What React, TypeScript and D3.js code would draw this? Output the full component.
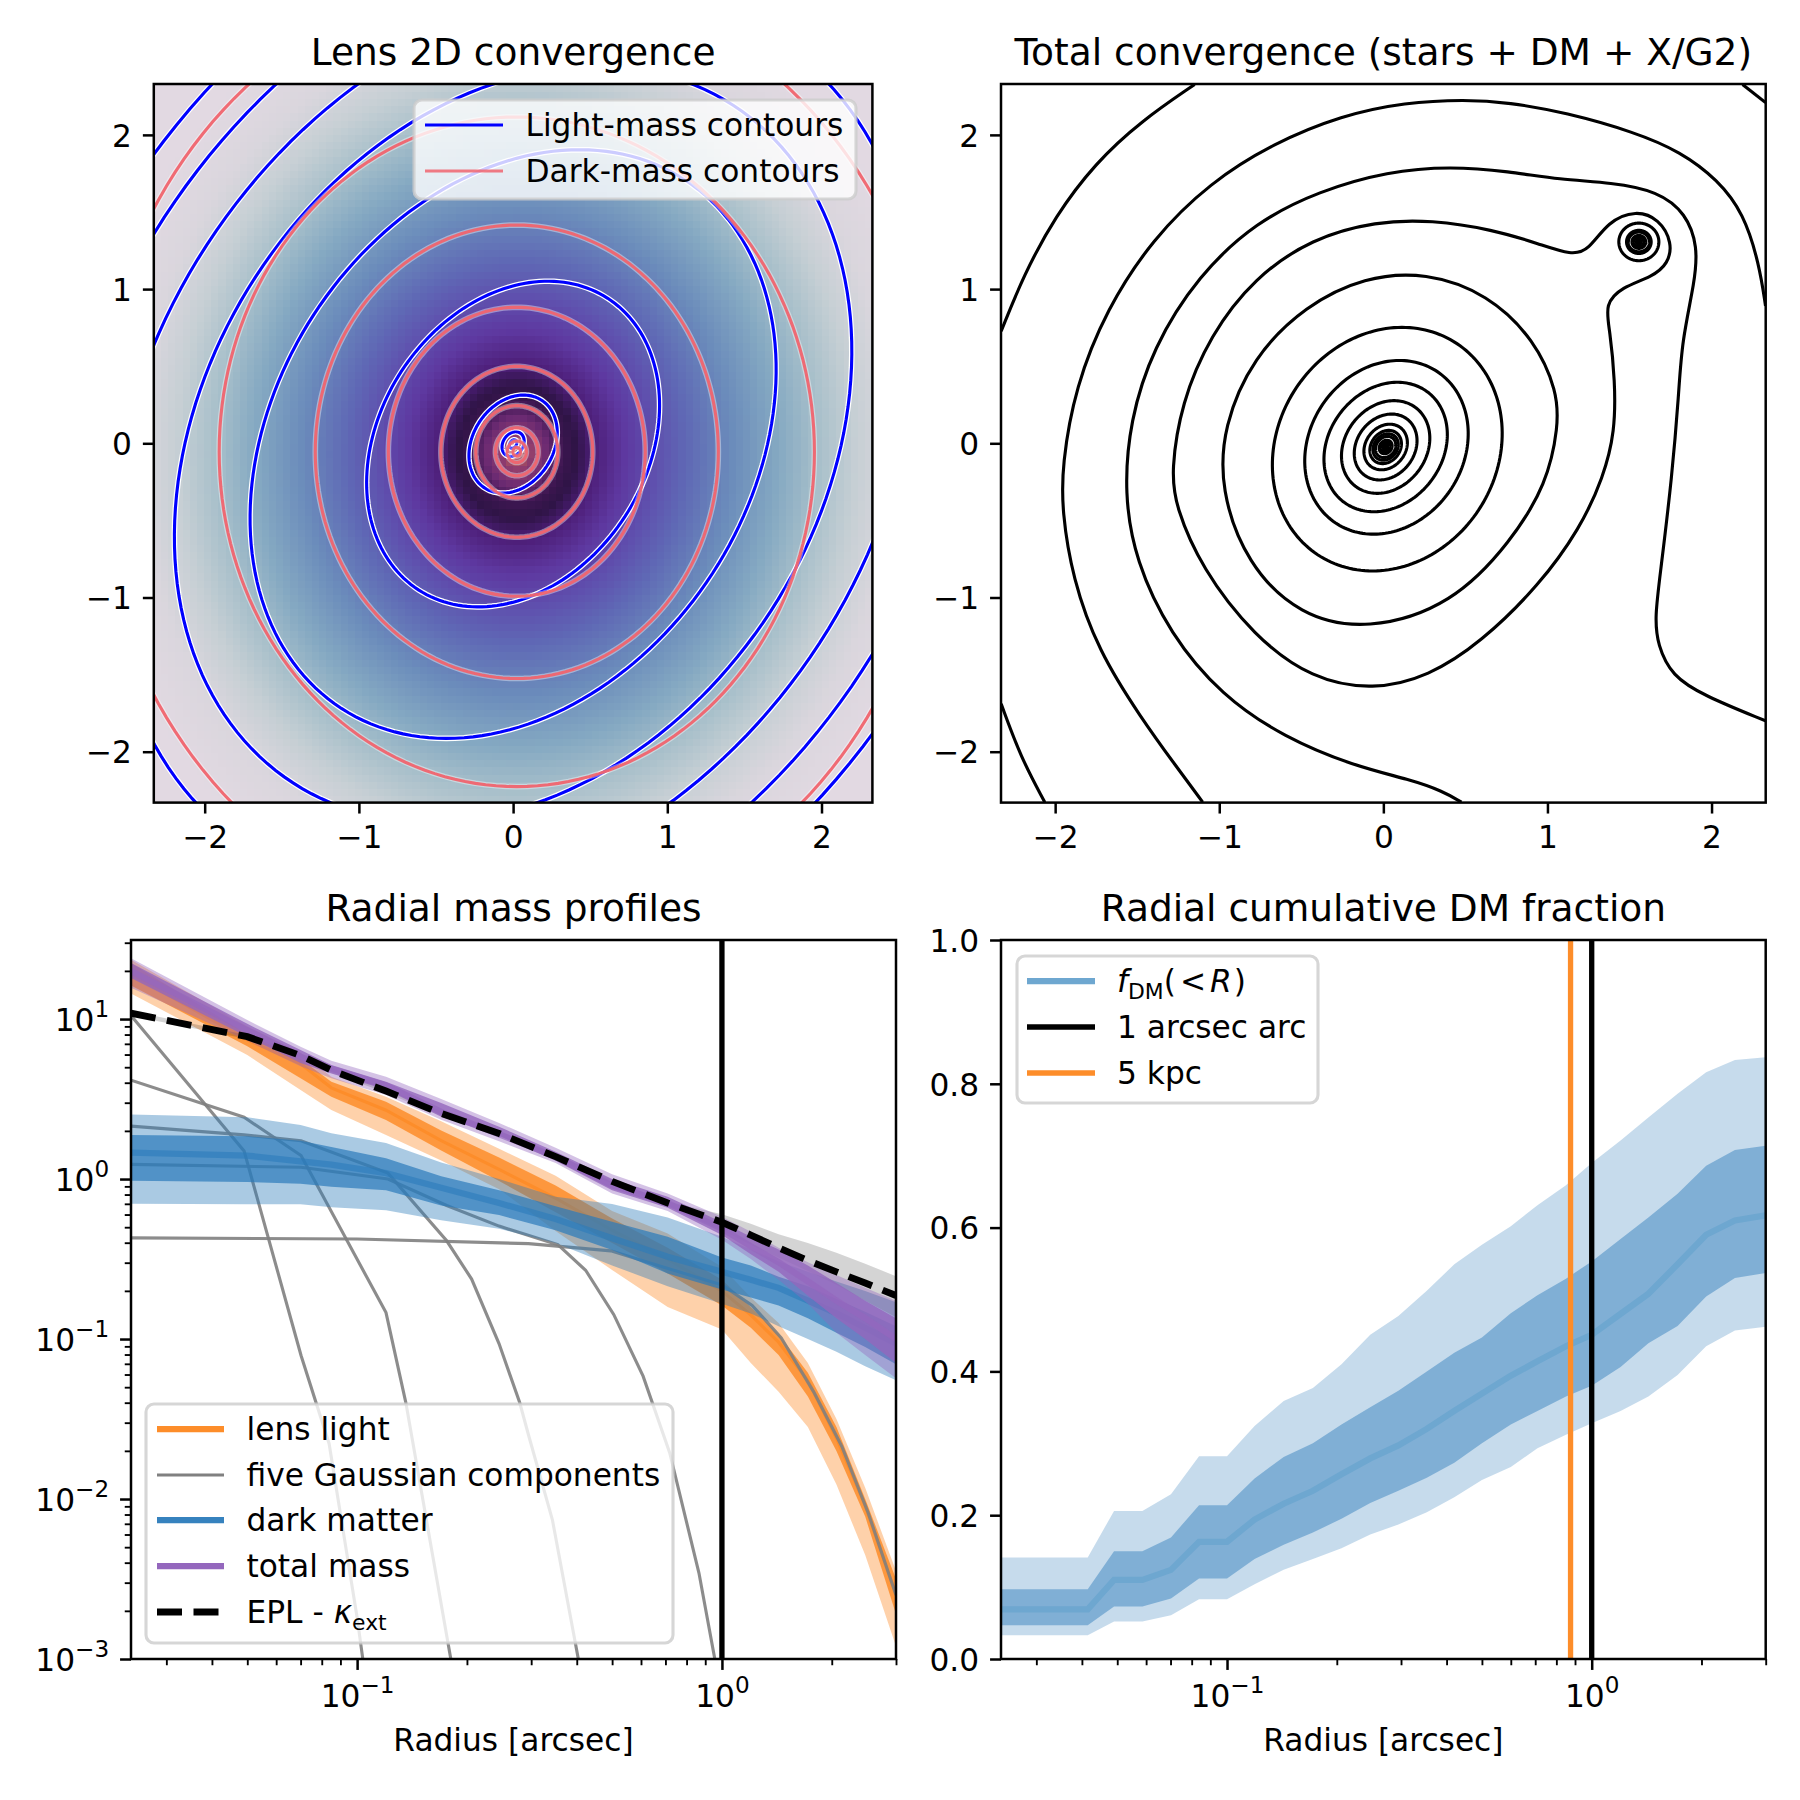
import React, { useRef, useEffect } from "react";
import * as d3 from "d3";

// ---------- lens 2D convergence: contour semi axes ----------
const lightSemiMajor = [0.03, 0.085, 0.339, 1.127, 2.044, 2.62, 3.13, 3.55, 3.93];
const lightAxisRatio = [0.7, 0.77, 0.77, 0.767, 0.754, 0.76, 0.757, 0.76, 0.76];
const lightAngleDeg = 57;
const darkSemiX = [0.025, 0.062, 0.138, 0.266, 0.4925, 0.833, 1.307, 1.93, 2.74];
const darkAxisRatio = 1.125;
const darkCentre = [0.024, -0.055];
// radial profile of the image: elliptical radius -> colour
const kappaRadius = [0, 0.05, 0.1, 0.2, 0.3, 0.38, 0.5, 0.7, 0.9, 1.1, 1.4, 1.7, 1.95, 2.2, 2.45, 2.8, 3.5];
const kappaColour = ["#c8887f", "#a8505f", "#8f3c6e", "#6b2a72", "#3c1650", "#2f1446", "#4d1e78", "#5e38a0", "#5f50ae", "#5f68b5", "#6b8cbb", "#85a9c2", "#a7bfca", "#c6cfd4", "#dad6dd", "#e2d9e2", "#e2d9e2"];
const gridSize = 100;

// ---------- total convergence ----------
const outerTopLeft = [[-2.329, 0.727], [-2.192, 1.09], [-2.0, 1.473], [-1.755, 1.818], [-1.476, 2.09], [-1.15, 2.327]];
const outerBottomLeft = [[-2.329, -1.69], [-2.21, -2.036], [-2.063, -2.327]];
const outerTopRight = [[2.189, 2.327], [2.329, 2.21]];
const contourTwo = [[2.329, 0.891], [2.29, 1.164], [2.196, 1.491], [2.038, 1.709], [1.811, 1.891], [1.531, 2.018], [1.112, 2.145], [0.762, 2.211], [0.5, 2.229], [0.133, 2.211], [-0.252, 2.127], [-0.671, 1.945], [-1.056, 1.691], [-1.406, 1.327], [-1.685, 0.873], [-1.878, 0.364], [-1.958, -0.145], [-1.958, -0.436], [-1.895, -0.873], [-1.738, -1.345], [-1.476, -1.782], [-1.266, -2.09], [-1.101, -2.327]];
const contourThree = [[2.329, -1.8], [1.951, -1.636], [1.759, -1.509], [1.671, -1.309], [1.654, -1.127], [1.689, -0.836], [1.759, -0.218], [1.801, 0.327], [1.818, 0.655], [1.899, 1.055], [1.916, 1.273], [1.846, 1.491], [1.671, 1.636], [1.392, 1.691], [1.077, 1.709], [0.762, 1.764], [0.413, 1.796], [0.028, 1.764], [-0.392, 1.636], [-0.776, 1.436], [-1.126, 1.091], [-1.406, 0.618], [-1.545, 0.145], [-1.58, -0.327], [-1.51, -0.764], [-1.301, -1.236], [-0.986, -1.636], [-0.601, -1.909], [-0.182, -2.091], [0.168, -2.182], [0.36, -2.255], [0.476, -2.327]];
const contourFour = [[1.54, 1.512], [1.68, 1.455], [1.762, 1.3], [1.735, 1.165], [1.64, 1.08], [1.45, 1.012], [1.35, 0.9], [1.38, 0.739], [1.412, 0.407], [1.412, 0.075], [1.341, -0.22], [1.199, -0.552], [0.95, -0.921], [0.595, -1.291], [0.276, -1.512], [-0.061, -1.601], [-0.434, -1.53], [-0.788, -1.253], [-1.108, -0.811], [-1.267, -0.405], [-1.293, -0.184], [-1.232, 0.26], [-1.054, 0.703], [-0.788, 1.072], [-0.434, 1.33], [-0.043, 1.44], [0.294, 1.448], [0.666, 1.386], [0.95, 1.293], [1.147, 1.22], [1.25, 1.25], [1.37, 1.44]];
const contourFive = [[0.261, 1.11], [0.637, 0.968], [0.924, 0.67], [1.06, 0.334], [1.067, 0.111], [0.996, -0.263], [0.78, -0.635], [0.423, -1.045], [-0.097, -1.216], [-0.51, -1.12], [-0.832, -0.784], [-0.994, -0.299], [-0.975, 0.111], [-0.796, 0.558], [-0.474, 0.894], [-0.115, 1.08]];
// remaining rings are nearly elliptical: semi major, semi minor, angle, centre
const ringSemiMajor = [0.809, 0.582, 0.44, 0.315, 0.224, 0.155, 0.113, 0.09, 0.072, 0.046, 0.032, 0.018, 0.008];
const ringSemiMinor = [0.678, 0.476, 0.352, 0.252, 0.179, 0.124, 0.09, 0.072, 0.058, 0.037, 0.026, 0.014, 0.006];
const ringAngleDeg = [66.6, 64, 60, 60, 60, 60, 60, 60, 60, 60, 60, 60, 60];
const ringCentreX = [0.024, 0.019, 0.014, 0.014, 0.014, 0.014, 0.014, 0.014, 0.014, 0.014, 0.014, 0.014, 0.014];
const ringCentreY = [-0.038, -0.026, -0.024, -0.024, -0.024, -0.024, -0.024, -0.024, -0.024, -0.024, -0.024, -0.024, -0.024];
const satelliteRadius = [0.122, 0.075, 0.064, 0.042, 0.03, 0.015, 0.005];
const satelliteCentre = [1.557, 1.306];

// ---------- radial mass profiles, log10 of the convergence ----------
const massRadii = [0.024, 0.05, 0.07, 0.085, 0.12, 0.17, 0.245, 0.35, 0.5, 0.71, 1, 1.2, 1.43, 1.72, 2.06, 2.47, 3];
const lightLow2 = [1.16, 0.775, 0.556, 0.431, 0.275, 0.116, -0.064, -0.324, -0.569, -0.8, -0.94, -1.15, -1.33, -1.55, -1.91, -2.35, -2.92];
const lightLow1 = [1.21, 0.83, 0.63, 0.514, 0.369, 0.178, -0.012, -0.207, -0.4, -0.59, -0.79, -0.93, -1.1, -1.36, -1.7, -2.11, -2.72];
const lightMed = [1.28, 0.87, 0.72, 0.57, 0.43, 0.24, 0.06, -0.12, -0.32, -0.5, -0.7, -0.85, -1.02, -1.26, -1.62, -2.04, -2.6];
const lightHigh1 = [1.35, 0.905, 0.75, 0.608, 0.483, 0.303, 0.134, -0.04, -0.246, -0.43, -0.63, -0.8, -0.97, -1.21, -1.55, -2.0, -2.5];
const lightHigh2 = [1.37, 0.955, 0.79, 0.64, 0.514, 0.361, 0.189, 0.02, -0.2, -0.34, -0.55, -0.74, -0.9, -1.15, -1.5, -1.93, -2.45];
const darkLow2 = [-0.154, -0.158, -0.158, -0.176, -0.195, -0.257, -0.31, -0.4, -0.54, -0.67, -0.78, -0.84, -0.92, -1.0, -1.08, -1.17, -1.257];
const darkLow1 = [-0.011, -0.018, -0.03, -0.048, -0.07, -0.165, -0.225, -0.32, -0.444, -0.59, -0.69, -0.74, -0.79, -0.87, -0.96, -1.05, -1.158];
const darkMed = [0.165, 0.147, 0.11, 0.09, 0.037, -0.055, -0.15, -0.25, -0.37, -0.486, -0.58, -0.63, -0.68, -0.76, -0.84, -0.93, -1.03];
const darkHigh1 = [0.276, 0.268, 0.239, 0.2, 0.13, 0.018, -0.07, -0.17, -0.267, -0.36, -0.49, -0.54, -0.61, -0.67, -0.75, -0.83, -0.92];
const darkHigh2 = [0.404, 0.386, 0.338, 0.287, 0.225, 0.103, 0, -0.11, -0.156, -0.24, -0.36, -0.44, -0.515, -0.58, -0.64, -0.7, -0.77];
const totalLow2 = [1.195, 0.865, 0.705, 0.63, 0.525, 0.37, 0.236, 0.1, -0.09, -0.2, -0.38, -0.5, -0.63, -0.78, -0.96, -1.1, -1.245];
const totalLow1 = [1.256, 0.89, 0.725, 0.66, 0.56, 0.39, 0.27, 0.115, -0.07, -0.18, -0.35, -0.47, -0.58, -0.73, -0.87, -1.0, -1.15];
const totalMed = [1.3, 0.93, 0.765, 0.69, 0.585, 0.42, 0.28, 0.14, -0.04, -0.15, -0.31, -0.42, -0.52, -0.64, -0.76, -0.87, -1.0];
const totalHigh1 = [1.35, 0.97, 0.806, 0.7125, 0.608, 0.475, 0.327, 0.17, -0.0, -0.11, -0.27, -0.36, -0.44, -0.54, -0.65, -0.76, -0.87];
const totalHigh2 = [1.38, 0.994, 0.827, 0.74, 0.64, 0.5, 0.351, 0.195, 0.03, -0.09, -0.235, -0.33, -0.43, -0.52, -0.6, -0.68, -0.76];
const eplLow = [1.02, 0.875, 0.76, 0.665, 0.54, 0.395, 0.27, 0.125, -0.03, -0.165, -0.32, -0.41, -0.49, -0.575, -0.66, -0.76, -0.864];
const eplMed = [1.037, 0.89, 0.772, 0.68, 0.55, 0.41, 0.285, 0.14, -0.015, -0.15, -0.27, -0.35, -0.43, -0.51, -0.58, -0.65, -0.728];
const eplHigh = [1.05, 0.9, 0.785, 0.695, 0.565, 0.425, 0.3, 0.155, -0.005, -0.14, -0.22, -0.28, -0.345, -0.4, -0.46, -0.53, -0.607];

const gaussRadii = [
  [0.024, 0.049, 0.0702, 0.0838, 0.1, 0.119],
  [0.024, 0.049, 0.0702, 0.12, 0.136, 0.18, 0.204],
  [0.024, 0.049, 0.0702, 0.1215, 0.176, 0.206, 0.245, 0.279, 0.295, 0.343, 0.404, 0.444],
  [0.024, 0.0702, 0.1215, 0.176, 0.245, 0.355, 0.423, 0.505, 0.608, 0.719, 0.865, 0.956, 1.04],
  [0.024, 0.1, 0.295, 0.496, 0.693, 1, 1.21, 1.454, 1.784, 2.13, 2.52, 3],
];
const gaussLog = [
  [1.022, 0.176, -1.103, -1.654, -2.74, -4.0],
  [0.618, 0.386, 0.147, -0.835, -1.397, -2.98, -3.64],
  [0.331, 0.276, 0.239, 0.037, -0.386, -0.625, -1.03, -1.397, -1.6, -2.13, -3.0, -3.57],
  [0.092, 0.0735, 0, -0.165, -0.294, -0.41, -0.57, -0.846, -1.232, -1.71, -2.463, -3.0, -3.57],
  [-0.368, -0.375, -0.404, -0.449, -0.551, -0.662, -0.79, -0.993, -1.33, -1.67, -2.09, -2.6],
];

// ---------- cumulative DM fraction ----------
const fdmRadii = [0.024, 0.0415, 0.049, 0.0586, 0.0702, 0.0838, 0.1, 0.119, 0.143, 0.172, 0.206, 0.247, 0.295, 0.353, 0.42, 0.5, 0.6, 0.71, 0.85, 1, 1.2, 1.43, 1.72, 2.06, 2.47, 3];
const fdmLow2 = [0.033, 0.033, 0.052, 0.052, 0.061, 0.083, 0.083, 0.104, 0.124, 0.139, 0.154, 0.173, 0.187, 0.204, 0.225, 0.249, 0.267, 0.293, 0.312, 0.328, 0.345, 0.365, 0.395, 0.435, 0.457, 0.462];
const fdmLow1 = [0.047, 0.047, 0.073, 0.073, 0.084, 0.112, 0.112, 0.139, 0.159, 0.176, 0.195, 0.217, 0.234, 0.252, 0.273, 0.3, 0.326, 0.345, 0.365, 0.38, 0.406, 0.439, 0.463, 0.504, 0.53, 0.537];
const fdmMed = [0.069, 0.069, 0.11, 0.11, 0.124, 0.163, 0.163, 0.194, 0.216, 0.234, 0.257, 0.279, 0.297, 0.32, 0.345, 0.369, 0.394, 0.414, 0.435, 0.451, 0.48, 0.508, 0.549, 0.59, 0.61, 0.617];
const fdmHigh1 = [0.097, 0.097, 0.15, 0.15, 0.169, 0.214, 0.214, 0.251, 0.281, 0.3, 0.326, 0.35, 0.373, 0.4, 0.426, 0.447, 0.481, 0.506, 0.529, 0.553, 0.584, 0.614, 0.647, 0.686, 0.708, 0.714];
const fdmHigh2 = [0.141, 0.141, 0.206, 0.206, 0.229, 0.282, 0.282, 0.324, 0.359, 0.377, 0.41, 0.451, 0.477, 0.512, 0.549, 0.576, 0.602, 0.631, 0.659, 0.69, 0.721, 0.753, 0.786, 0.816, 0.833, 0.837];
const arcRadius = 1;
const kpcRadius = 0.875;

const imageTicks = [-2, -1, 0, 1, 2];
const imageLim = 2.33;
const radiusLim = [0.024, 3];
const massLim = [1e-3, 31.2];
const radiusMajor = [0.1, 1];
const radiusMinor = [0.03, 0.04, 0.05, 0.06, 0.07, 0.08, 0.09, 0.2, 0.3, 0.4, 0.5, 0.6, 0.7, 0.8, 0.9, 2, 3];
const massMajor = [1e-3, 1e-2, 1e-1, 1, 10];
const massMinor = [1e-3, 1e-2, 1e-1, 1].flatMap((d) => [2, 3, 4, 5, 6, 7, 8, 9].map((m) => m * d)).concat([20, 30]);
const fractionTicks = [0, 0.2, 0.4, 0.6, 0.8, 1];

// 1 pt = 3.125 px (8 in figure at 225 dpi)
const PT = 3.125;
const FONT = "DejaVu Sans";
const TICK_SIZE = 31.25;
const TITLE_SIZE = 37.5;
const BLUE = "#2b7bba";
const ORANGE = "#fd8d2a";
const PURPLE = "#9467bd";
const FDM_LINE = "#6ea7d0";
const RED_LINE = "#f0646e";
const EPL_DASH = "25,11.5";

const boxImage = { left: 153.8, right: 872.4, top: 84, bottom: 802.6 };
const boxTotal = { left: 1001, right: 1765.7, top: 84, bottom: 802.6 };
const boxMass = { left: 131, right: 896, top: 940, bottom: 1659 };
const boxFdm = { left: 1001, right: 1765.7, top: 940, bottom: 1659 };

const superscript = (d: number) => Math.round(Math.log10(d)).toString().replace("-", "\u2212");

function Axis({ scale, orient, major, minor, log, fmt, at }: any) {
  const ref = useRef<SVGGElement | null>(null);
  useEffect(() => {
    const g = d3.select(ref.current);
    g.selectAll("*").remove();
    const make = orient === "bottom" ? d3.axisBottom : d3.axisLeft;
    const majorAxis = make(scale)
      .tickValues(major)
      .tickSize(3.5 * PT)
      .tickPadding(3.5 * PT)
      .tickFormat(fmt || ((d: any) => String(d).replace("-", "\u2212")));
    const gMajor = g.append("g").call(majorAxis as any);
    gMajor.select(".domain").remove();
    gMajor.selectAll("line").attr("stroke", "#000").attr("stroke-width", 0.8 * PT);
    gMajor.selectAll("text").attr("fill", "#000").style("font-family", FONT).style("font-size", `${TICK_SIZE}px`);
    if (orient === "bottom") gMajor.selectAll("text").attr("dy", "0.76em");
    else gMajor.selectAll("text").attr("dy", "0.36em");
    if (log) {
      gMajor.selectAll<SVGTextElement, number>("text").each(function (d) {
        const t = d3.select(this);
        t.text(null);
        if (orient === "bottom") t.attr("dy", "0.82em");
        t.append("tspan").text("10");
        t.append("tspan").attr("dy", -14).style("font-size", `${TICK_SIZE * 0.74}px`).text(superscript(d));
      });
    }
    if (minor) {
      const gMinor = g.append("g").call(make(scale).tickValues(minor).tickSize(2 * PT).tickFormat(() => "") as any);
      gMinor.select(".domain").remove();
      gMinor.selectAll("line").attr("stroke", "#000").attr("stroke-width", 0.6 * PT);
    }
  }, []);
  return <g ref={ref} transform={at} />;
}

function Frame({ box, title, id, children, xAxis, yAxis, xLabel }: any) {
  const w = box.right - box.left;
  const h = box.bottom - box.top;
  return (
    <g>
      <clipPath id={id}>
        <rect x={box.left} y={box.top} width={w} height={h} />
      </clipPath>
      <g clipPath={`url(#${id})`}>{children}</g>
      <rect x={box.left} y={box.top} width={w} height={h} fill="none" stroke="#000" strokeWidth={0.8 * PT} />
      <Axis {...xAxis} orient="bottom" at={`translate(0,${box.bottom})`} />
      <Axis {...yAxis} orient="left" at={`translate(${box.left},0)`} />
      <text x={(box.left + box.right) / 2} y={box.top - 6 * PT} textAnchor="middle" fontFamily={FONT} fontSize={TITLE_SIZE}>
        {title}
      </text>
      {xLabel && (
        <text x={(box.left + box.right) / 2} y={box.bottom + 92} textAnchor="middle" fontFamily={FONT} fontSize={TICK_SIZE}>
          {xLabel}
        </text>
      )}
    </g>
  );
}

function Legend({ x, y, w, h, handleX, handleLen, textX, rows }: any) {
  return (
    <g fontFamily={FONT} fontSize={TICK_SIZE}>
      <rect x={x} y={y} width={w} height={h} rx={8} fill="#fff" fillOpacity={0.8} stroke="#ccc" strokeOpacity={0.8} strokeWidth={PT} />
      {rows.map((r: any, i: number) => (
        <g key={i}>
          <line x1={handleX} x2={handleX + handleLen} y1={r.y} y2={r.y} stroke={r.stroke} strokeWidth={r.width} strokeDasharray={r.dash} strokeOpacity={r.opacity ?? 1} />
          <text x={textX} y={r.y + 10.5}>
            {r.label}
          </text>
        </g>
      ))}
    </g>
  );
}

const ellipsePoints = (a: number, b: number, deg: number, c: number[]) => {
  const th = (deg * Math.PI) / 180;
  return d3.range(0, 360, 2).map((t) => {
    const p = (t * Math.PI) / 180;
    const u = a * Math.cos(p);
    const v = b * Math.sin(p);
    return [c[0] + u * Math.cos(th) - v * Math.sin(th), c[1] + u * Math.sin(th) + v * Math.cos(th)];
  });
};

function LensPanel() {
  const x = d3.scaleLinear().domain([-imageLim, imageLim]).range([boxImage.left, boxImage.right]);
  const y = d3.scaleLinear().domain([-imageLim, imageLim]).range([boxImage.bottom, boxImage.top]);
  const line = d3.line<number[]>().x((d) => x(d[0])).y((d) => y(d[1])).curve(d3.curveLinearClosed);
  const colour = d3.scaleLinear<string>().domain(kappaRadius).range(kappaColour).clamp(true);
  const step = (2 * imageLim) / gridSize;
  const cells = d3.range(gridSize).flatMap((i) => d3.range(gridSize).map((j) => [i, j]));
  const lightPaths = lightSemiMajor.map((a, i) => line(ellipsePoints(a, a * lightAxisRatio[i], lightAngleDeg, [0, -0.005])) as string);
  const darkPaths = darkSemiX.map((a) => line(ellipsePoints(a, a * darkAxisRatio, 0, darkCentre)) as string);
  return (
    <Frame
      box={boxImage}
      id="clip-lens"
      title="Lens 2D convergence"
      xAxis={{ scale: x, major: imageTicks }}
      yAxis={{ scale: y, major: imageTicks }}
    >
      <g shapeRendering="crispEdges">
        {cells.map(([i, j]) => {
          const cx = -imageLim + (i + 0.5) * step;
          const cy = -imageLim + (j + 0.5) * step;
          const r = Math.hypot(cx - darkCentre[0], (cy - darkCentre[1]) / darkAxisRatio);
          return <rect key={`${i}-${j}`} x={x(cx - step / 2)} y={y(cy + step / 2)} width={x(step) - x(0) + 0.7} height={y(0) - y(step) + 0.7} fill={colour(r)} />;
        })}
      </g>
      <g fill="none">
        {lightPaths.map((d, i) => (
          <g key={i}>
            <path d={d} stroke="#fff" strokeWidth={1.8 * PT} />
            <path d={d} stroke="#0000ff" strokeWidth={PT} />
          </g>
        ))}
        {darkPaths.map((d, i) => (
          <g key={i}>
            <path d={d} stroke="#fff" strokeOpacity={0.4} strokeWidth={1.8 * PT} />
            <path d={d} stroke={RED_LINE} strokeOpacity={0.95} strokeWidth={PT} />
          </g>
        ))}
      </g>
      <Legend
        x={414}
        y={100}
        w={442}
        h={99}
        handleX={425}
        handleLen={78}
        textX={525.5}
        rows={[
          { y: 125, stroke: "#0000ff", width: PT, label: "Light-mass contours" },
          { y: 171, stroke: RED_LINE, width: PT, opacity: 0.85, label: "Dark-mass contours" },
        ]}
      />
    </Frame>
  );
}

function TotalPanel() {
  const x = d3.scaleLinear().domain([-imageLim, imageLim]).range([boxTotal.left, boxTotal.right]);
  const y = d3.scaleLinear().domain([-imageLim, imageLim]).range([boxTotal.bottom, boxTotal.top]);
  const open = d3.line<number[]>().x((d) => x(d[0])).y((d) => y(d[1])).curve(d3.curveBasis);
  const closed = d3.line<number[]>().x((d) => x(d[0])).y((d) => y(d[1])).curve(d3.curveBasisClosed);
  const ring = d3.line<number[]>().x((d) => x(d[0])).y((d) => y(d[1])).curve(d3.curveLinearClosed);
  const openSets = [outerTopLeft, outerBottomLeft, outerTopRight, contourTwo, contourThree];
  const closedSets = [contourFour, contourFive];
  return (
    <Frame
      box={boxTotal}
      id="clip-total"
      title="Total convergence (stars + DM + X/G2)"
      xAxis={{ scale: x, major: imageTicks }}
      yAxis={{ scale: y, major: imageTicks }}
    >
      <g fill="none" stroke="#000" strokeWidth={PT}>
        {openSets.map((d, i) => (
          <path key={i} d={open(d) as string} />
        ))}
        {closedSets.map((d, i) => (
          <path key={i} d={closed(d) as string} />
        ))}
        {ringSemiMajor.map((a, i) => (
          <path key={i} d={ring(ellipsePoints(a, ringSemiMinor[i], ringAngleDeg[i], [ringCentreX[i], ringCentreY[i]])) as string} />
        ))}
        {satelliteRadius.map((r, i) => (
          <path key={i} d={ring(ellipsePoints(r, r, 0, satelliteCentre)) as string} />
        ))}
      </g>
    </Frame>
  );
}

function MassPanel() {
  const x = d3.scaleLog().domain(radiusLim).range([boxMass.left, boxMass.right]);
  const y = d3.scaleLog().domain(massLim).range([boxMass.bottom, boxMass.top]);
  const band = (low: number[], high: number[]) =>
    d3
      .area<number>()
      .x((r) => x(r))
      .y0((_, i) => y(10 ** low[i]))
      .y1((_, i) => y(10 ** high[i]))(massRadii) as string;
  const curve = (rs: number[], vals: number[]) =>
    d3
      .line<number>()
      .x((r) => x(r))
      .y((_, i) => y(10 ** vals[i]))(rs) as string;
  return (
    <Frame
      box={boxMass}
      id="clip-mass"
      title="Radial mass profiles"
      xLabel="Radius [arcsec]"
      xAxis={{ scale: x, major: radiusMajor, minor: radiusMinor, log: true }}
      yAxis={{ scale: y, major: massMajor, minor: massMinor, log: true }}
    >
      <path d={band(lightLow2, lightHigh2)} fill={ORANGE} fillOpacity={0.4} />
      <path d={band(lightLow1, lightHigh1)} fill={ORANGE} fillOpacity={0.85} />
      <path d={curve(massRadii, lightMed)} fill="none" stroke={ORANGE} strokeWidth={PT} />
      {gaussRadii.map((rs, i) => (
        <path key={i} d={curve(rs, gaussLog[i])} fill="none" stroke="#808080" strokeOpacity={0.9} strokeWidth={PT} />
      ))}
      <path d={band(darkLow2, darkHigh2)} fill={BLUE} fillOpacity={0.4} />
      <path d={band(darkLow1, darkHigh1)} fill={BLUE} fillOpacity={0.7} />
      <path d={curve(massRadii, darkMed)} fill="none" stroke={BLUE} strokeOpacity={0.6} strokeWidth={2 * PT} />
      <path d={band(eplLow, eplHigh)} fill="#000" fillOpacity={0.17} />
      <path d={band(totalLow2, totalHigh2)} fill={PURPLE} fillOpacity={0.4} />
      <path d={band(totalLow1, totalHigh1)} fill={PURPLE} fillOpacity={0.8} />
      <path d={curve(massRadii, totalMed)} fill="none" stroke={PURPLE} strokeOpacity={0.7} strokeWidth={2 * PT} />
      <path d={curve(massRadii, eplMed)} fill="none" stroke="#000" strokeWidth={2.2 * PT} strokeDasharray={EPL_DASH} />
      <line x1={x(arcRadius)} x2={x(arcRadius)} y1={boxMass.top} y2={boxMass.bottom} stroke="#000" strokeWidth={1.7 * PT} />
      <Legend
        x={146}
        y={1404}
        w={527}
        h={239}
        handleX={157}
        handleLen={67}
        textX={246.5}
        rows={[
          { y: 1429, stroke: ORANGE, width: 2 * PT, label: "lens light" },
          { y: 1475, stroke: "#808080", width: PT, label: "five Gaussian components" },
          { y: 1520, stroke: BLUE, width: 2 * PT, opacity: 0.95, label: "dark matter" },
          { y: 1566, stroke: PURPLE, width: 2 * PT, label: "total mass" },
          {
            y: 1612,
            stroke: "#000",
            width: 2.2 * PT,
            dash: EPL_DASH,
            label: (
              <>
                EPL - <tspan fontStyle="italic">κ</tspan>
                <tspan dy={7} fontSize={TICK_SIZE * 0.7}>
                  ext
                </tspan>
              </>
            ),
          },
        ]}
      />
    </Frame>
  );
}

function FdmPanel() {
  const x = d3.scaleLog().domain(radiusLim).range([boxFdm.left, boxFdm.right]);
  const y = d3.scaleLinear().domain([0, 1]).range([boxFdm.bottom, boxFdm.top]);
  const band = (low: number[], high: number[]) =>
    d3
      .area<number>()
      .x((r) => x(r))
      .y0((_, i) => y(low[i]))
      .y1((_, i) => y(high[i]))(fdmRadii) as string;
  const med = d3
    .line<number>()
    .x((r) => x(r))
    .y((_, i) => y(fdmMed[i]))(fdmRadii) as string;
  return (
    <Frame
      box={boxFdm}
      id="clip-fdm"
      title="Radial cumulative DM fraction"
      xLabel="Radius [arcsec]"
      xAxis={{ scale: x, major: radiusMajor, minor: radiusMinor, log: true }}
      yAxis={{ scale: y, major: fractionTicks, fmt: d3.format(".1f") }}
    >
      <path d={band(fdmLow2, fdmHigh2)} fill={BLUE} fillOpacity={0.27} />
      <path d={band(fdmLow1, fdmHigh1)} fill={BLUE} fillOpacity={0.45} />
      <path d={med} fill="none" stroke={FDM_LINE} strokeWidth={2 * PT} />
      <line x1={x(kpcRadius)} x2={x(kpcRadius)} y1={boxFdm.top} y2={boxFdm.bottom} stroke={ORANGE} strokeWidth={1.7 * PT} />
      <line x1={x(arcRadius)} x2={x(arcRadius)} y1={boxFdm.top} y2={boxFdm.bottom} stroke="#000" strokeWidth={1.7 * PT} />
      <Legend
        x={1017}
        y={956}
        w={301}
        h={147}
        handleX={1027}
        handleLen={68}
        textX={1117}
        rows={[
          {
            y: 981,
            stroke: FDM_LINE,
            width: 2 * PT,
            label: (
              <>
                <tspan fontStyle="italic">f</tspan>
                <tspan dy={7} fontSize={TICK_SIZE * 0.7}>
                  DM
                </tspan>
                <tspan dy={-7}>(</tspan>
                <tspan dx={4}>&lt;</tspan>
                <tspan dx={4} fontStyle="italic">
                  R
                </tspan>
                <tspan dx={2}>)</tspan>
              </>
            ),
          },
          { y: 1027, stroke: "#000", width: 1.7 * PT, label: "1 arcsec arc" },
          { y: 1073, stroke: ORANGE, width: 1.7 * PT, label: "5 kpc" },
        ]}
      />
    </Frame>
  );
}

export default function App() {
  return (
    <svg width={1800} height={1800} style={{ position: "absolute", left: 0, top: 0, background: "#fff" }}>
      <LensPanel />
      <TotalPanel />
      <MassPanel />
      <FdmPanel />
    </svg>
  );
}
